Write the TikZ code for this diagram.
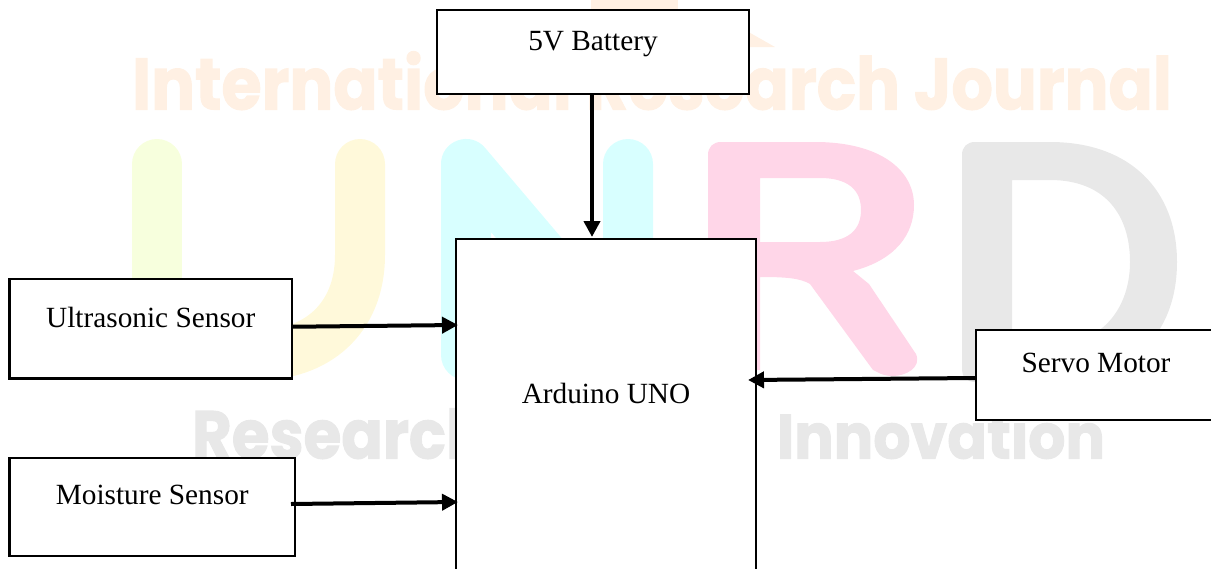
\documentclass[tikz,border=0pt]{standalone}
\usepackage{fontspec}
\setmainfont{Liberation Serif}
\newfontfamily\wmfont{Poppins}[UprightFont=* Bold,FakeBold=1.6]
\usetikzlibrary{arrows.meta}
\definecolor{wmorange}{HTML}{FFF0E3}
\definecolor{wmgreen}{HTML}{F7FFDD}
\definecolor{wmyellow}{HTML}{FFF9DA}
\definecolor{wmcyan}{HTML}{D8FFFF}
\definecolor{wmpink}{HTML}{FFD6E8}
\definecolor{wmgrey}{HTML}{E8E8E8}
\tikzset{
  x=1pt,y=-1pt,
  blockbox/.style={draw=black,fill=white,line width=2.6pt,inner sep=0pt,outer sep=0pt,anchor=north west,align=center,
    font=\fontsize{29.3}{32}\selectfont,text=black},
  flowarrow/.style={line width=4pt,-{Triangle[length=16pt,width=16pt]},black},
  wmtext/.style={inner sep=0pt,outer sep=0pt,anchor=south west},
  wmstroke/.style={line width=50pt,line cap=round,line join=round},
}
\begin{document}
\begin{tikzpicture}
\useasboundingbox (0,0) rectangle (1211,568);
% --- faint watermark behind the diagram ---
\fill[wmorange] (591,0) rectangle (678,12);
\fill[wmorange] (745,30) -- (775,47) -- (745,47) -- cycle;
\node[wmtext,text=wmorange] (wmtop) at (132,110) {\resizebox{1040pt}{58pt}{\wmfont International Research Journal}};
\draw[wmstroke,wmgreen] (157,164) -- (157,300);
\draw[wmstroke,wmyellow] (360,164) -- (360,255) .. controls (360,320) and (315,355) .. (259,355);
\draw[wmstroke,wmcyan] (466,355) -- (466,164) -- (628,355) -- (628,164);
\fill[wmpink,even odd rule] (721,142) -- (815,142) .. controls (880,142) and (914,170) .. (914,205)
   .. controls (914,235) and (895,260) .. (853,271) -- (869,284) -- (916,354)
   .. controls (922,368) and (905,376) .. (893,376) .. controls (882,376) and (878,372) .. (873,370)
   -- (810,284) .. controls (800,278) and (785,277) .. (760,277) -- (760,370) -- (708,370) -- (708,155)
   .. controls (708,147) and (713,142) .. (721,142) -- cycle
   (760,178) -- (820,178) .. controls (848,178) and (861,190) .. (861,210)
   .. controls (861,230) and (848,242) .. (820,242) -- (760,242) -- cycle;
\fill[wmgrey,even odd rule] (962,155) .. controls (962,147) and (967,142) .. (975,142) -- (1050,142)
   .. controls (1130,142) and (1177,190) .. (1177,262) .. controls (1177,335) and (1130,382) .. (1050,382)
   -- (975,382) .. controls (967,382) and (962,377) .. (962,370) -- cycle
   (1012,180) -- (1050,180) .. controls (1105,180) and (1130,215) .. (1130,262)
   .. controls (1130,305) and (1105,345) .. (1050,345) -- (1012,345) -- cycle;
\node[wmtext,text=wmgrey] (wmres) at (192,459) {\resizebox{295pt}{50pt}{\wmfont Research}};
\node[wmtext,text=wmgrey] (wminn) at (777,459) {\resizebox{328pt}{50pt}{\wmfont Innovation}};
% --- blocks ---
\node[blockbox,line width=2.9pt,minimum width=312pt,minimum height=84pt,text height=40pt,text depth=44pt] (batt) at (437,10) {5V Battery};
\node[blockbox,minimum width=300pt,minimum height=333pt,text height=164pt,text depth=169pt] (ard) at (456,239) {Arduino UNO};
\node[blockbox,minimum width=282.5pt,minimum height=99.5pt,text height=48pt,text depth=51.5pt] (us) at (9.5,279) {Ultrasonic Sensor};
\node[blockbox,minimum width=285.5pt,minimum height=98pt,text height=46pt,text depth=52pt] (ms) at (9.5,458) {Moisture Sensor};
\node[blockbox,minimum width=240pt,minimum height=90pt,text height=42pt,text depth=48pt] (sv) at (976,330) {Servo Motor};
% --- connectors ---
\draw[flowarrow] ([xshift=-1pt]batt.south) -- ([xshift=-14pt,yshift=2pt]ard.north);
\draw[flowarrow] ([yshift=2pt]us.east) -- ([xshift=2pt,yshift=-86pt]ard.north west);
\draw[flowarrow] ([xshift=-4pt,yshift=3pt]ms.east) -- ([xshift=2pt,yshift=-263pt]ard.north west);
\draw[flowarrow] ([xshift=-1pt,yshift=-3pt]sv.west) -- ([xshift=-8pt,yshift=-141pt]ard.north east);
\end{tikzpicture}
\end{document}
